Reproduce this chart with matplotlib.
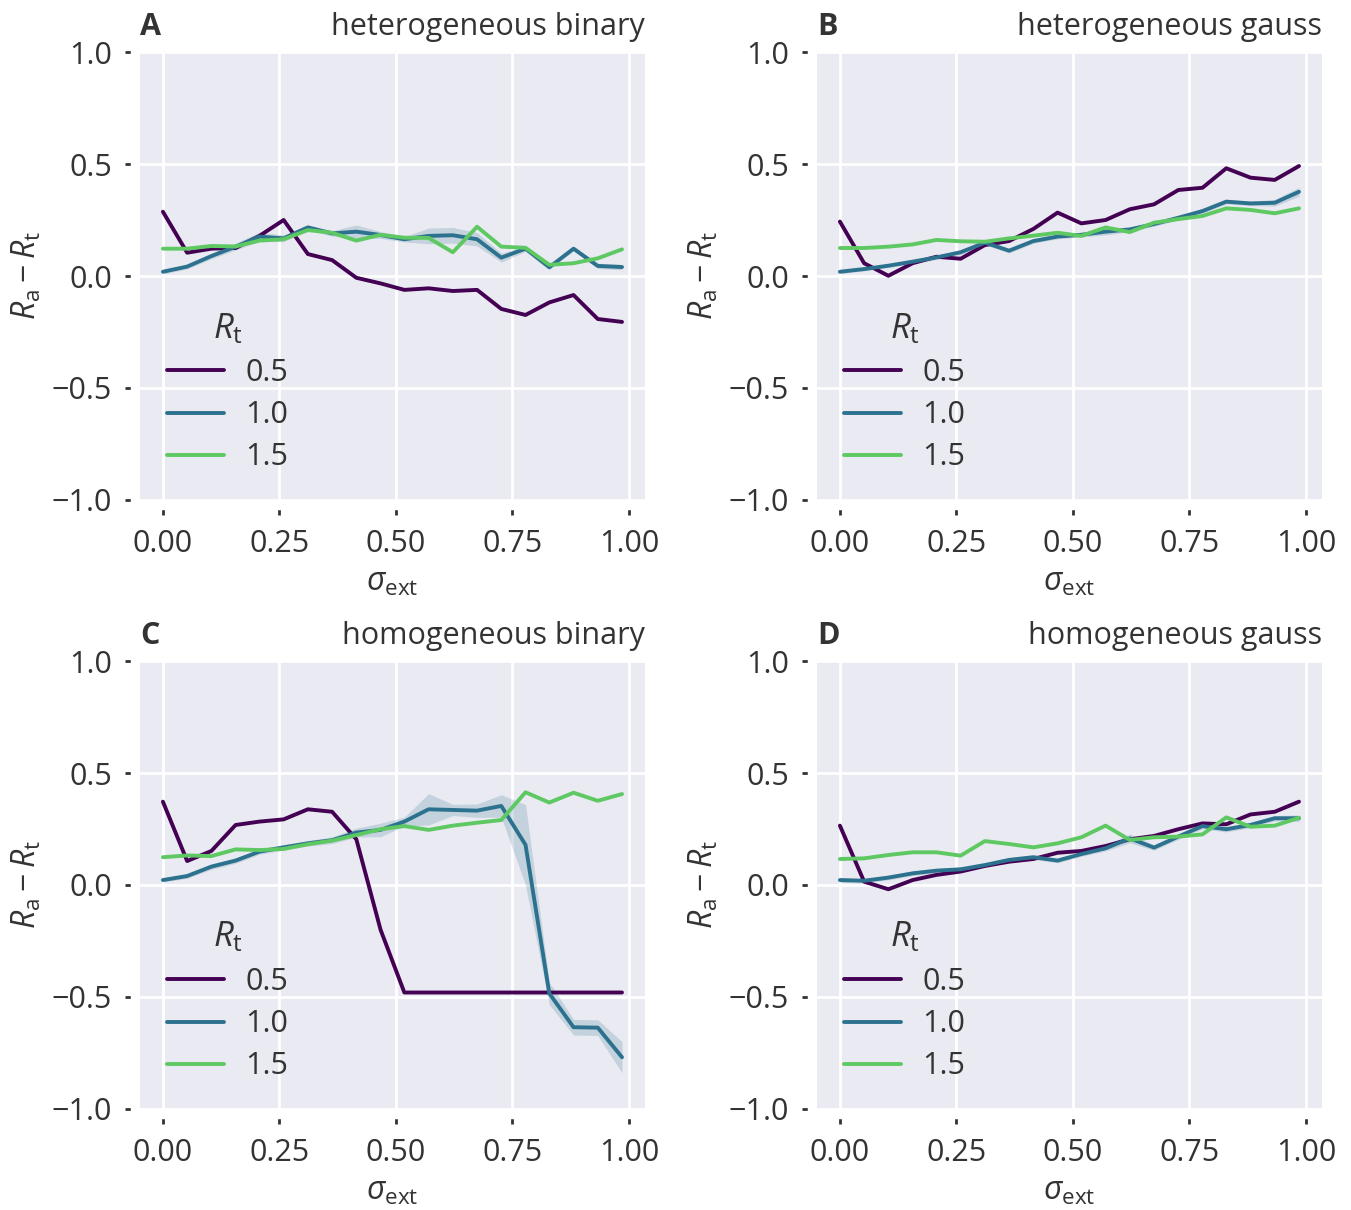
import matplotlib
matplotlib.use("Agg")
import matplotlib.pyplot as plt
import seaborn as sns

# sigma_ext values (20 steps)
sigma = [0.0, 0.052, 0.104, 0.156, 0.207, 0.259, 0.311, 0.363, 0.415, 0.467,
         0.518, 0.570, 0.622, 0.674, 0.726, 0.778, 0.829, 0.881, 0.933, 0.985]

# A: heterogeneous binary
a_05 = [0.287, 0.104, 0.122, 0.125, 0.179, 0.25, 0.098, 0.071, -0.008, -0.033,
        -0.062, -0.055, -0.067, -0.062, -0.147, -0.174, -0.118, -0.085, -0.192, -0.205]
a_10 = [0.019, 0.042, 0.089, 0.131, 0.176, 0.168, 0.217, 0.19, 0.198, 0.183,
        0.164, 0.179, 0.182, 0.164, 0.082, 0.122, 0.039, 0.122, 0.045, 0.04]
a_15 = [0.122, 0.122, 0.134, 0.132, 0.158, 0.164, 0.205, 0.193, 0.158, 0.184,
        0.171, 0.17, 0.106, 0.22, 0.131, 0.126, 0.05, 0.057, 0.079, 0.119]
a_10_ci = [0.01, 0.01, 0.012, 0.015, 0.02, 0.015, 0.012, 0.012, 0.03, 0.015,
           0.012, 0.035, 0.035, 0.03, 0.02, 0.012, 0.01, 0.01, 0.012, 0.012]

# B: heterogeneous gauss
b_05 = [0.243, 0.057, 0.001, 0.057, 0.086, 0.077, 0.138, 0.156, 0.21, 0.283,
        0.235, 0.25, 0.298, 0.32, 0.384, 0.394, 0.481, 0.439, 0.429, 0.491]
b_10 = [0.019, 0.031, 0.046, 0.064, 0.083, 0.106, 0.149, 0.113, 0.156, 0.176,
        0.184, 0.198, 0.208, 0.232, 0.26, 0.29, 0.332, 0.324, 0.327, 0.376]
b_15 = [0.125, 0.125, 0.131, 0.141, 0.161, 0.155, 0.153, 0.168, 0.18, 0.193,
        0.179, 0.217, 0.196, 0.238, 0.254, 0.268, 0.302, 0.295, 0.28, 0.302]
b_10_ci = [0.008, 0.008, 0.008, 0.008, 0.01, 0.01, 0.01, 0.01, 0.01, 0.01,
           0.01, 0.015, 0.01, 0.01, 0.01, 0.01, 0.01, 0.01, 0.015, 0.02]

# C: homogeneous binary
c_05 = [0.372, 0.107, 0.152, 0.268, 0.283, 0.293, 0.338, 0.327, 0.204, -0.2,
        -0.48, -0.48, -0.48, -0.48, -0.48, -0.48, -0.48, -0.48, -0.48, -0.48]
c_10 = [0.022, 0.04, 0.082, 0.109, 0.149, 0.168, 0.186, 0.2, 0.234, 0.246,
        0.283, 0.338, 0.335, 0.332, 0.353, 0.179, -0.484, -0.635, -0.637, -0.769]
c_15 = [0.124, 0.132, 0.129, 0.159, 0.156, 0.161, 0.182, 0.198, 0.223, 0.249,
        0.263, 0.246, 0.265, 0.278, 0.29, 0.414, 0.368, 0.412, 0.376, 0.406]
c_10_ci = [0.008, 0.01, 0.012, 0.012, 0.012, 0.012, 0.012, 0.015, 0.02, 0.03,
           0.02, 0.07, 0.025, 0.03, 0.05, 0.18, 0.05, 0.035, 0.035, 0.07]

# D: homogeneous gauss
d_05 = [0.265, 0.015, -0.019, 0.022, 0.045, 0.06, 0.085, 0.104, 0.116, 0.144,
        0.152, 0.174, 0.204, 0.219, 0.249, 0.275, 0.271, 0.315, 0.327, 0.372]
d_10 = [0.022, 0.019, 0.033, 0.052, 0.064, 0.07, 0.089, 0.112, 0.124, 0.109,
        0.138, 0.164, 0.208, 0.167, 0.216, 0.263, 0.249, 0.268, 0.298, 0.298]
d_15 = [0.116, 0.119, 0.134, 0.146, 0.146, 0.131, 0.196, 0.183, 0.168, 0.186,
        0.213, 0.265, 0.201, 0.213, 0.216, 0.226, 0.302, 0.26, 0.265, 0.3]
d_10_ci = [0.01, 0.01, 0.01, 0.01, 0.01, 0.01, 0.01, 0.01, 0.01, 0.01,
           0.01, 0.012, 0.02, 0.012, 0.012, 0.012, 0.012, 0.012, 0.012, 0.015]

r_t = ["0.5", "1.0", "1.5"]
colors = ["#440154", "#2c728e", "#5ec962"]

panels = [
    ("A", "heterogeneous binary", [a_05, a_10, a_15], a_10_ci),
    ("B", "heterogeneous gauss", [b_05, b_10, b_15], b_10_ci),
    ("C", "homogeneous binary", [c_05, c_10, c_15], c_10_ci),
    ("D", "homogeneous gauss", [d_05, d_10, d_15], d_10_ci),
]

sns.set_theme(style="darkgrid", rc={"xtick.bottom": True, "ytick.left": True,
                                    "xtick.major.size": 2.5, "ytick.major.size": 2.5,
                                    "xtick.major.width": 1.0, "ytick.major.width": 1.0})
plt.rcParams["font.family"] = ["Open Sans", "DejaVu Sans"]
plt.rcParams["mathtext.fontset"] = "custom"
plt.rcParams["mathtext.rm"] = "Open Sans"
plt.rcParams["mathtext.it"] = "Open Sans:italic"
plt.rcParams["mathtext.bf"] = "Open Sans:bold"

txt = ".2"
fig = plt.figure(figsize=(6.755, 6.05), dpi=200)
lefts = [0.1036, 0.6047]
bottoms = [0.5868, 0.0835]
w, h = 0.3738, 0.3702

for i, (letter, title, series, ci) in enumerate(panels):
    ax = fig.add_axes([lefts[i % 2], bottoms[i // 2], w, h])
    for k, (ys, col, lab) in enumerate(zip(series, colors, r_t)):
        ax.plot(sigma, ys, color=col, lw=1.4, label=lab)
        if k == 1:
            lo = [y - e for y, e in zip(ys, ci)]
            hi = [y + e for y, e in zip(ys, ci)]
            ax.fill_between(sigma, lo, hi, color=col, alpha=0.2, lw=0)
    ax.set_ylim(-1, 1)
    ax.set_yticks([-1.0, -0.5, 0.0, 0.5, 1.0])
    ax.set_xticks([0.0, 0.25, 0.5, 0.75, 1.0])
    ax.tick_params(axis="y", labelsize=11, pad=4.5, colors=txt)
    ax.tick_params(axis="x", labelsize=11, pad=5, colors=txt)
    ax.set_xlabel(r"$\sigma_\mathrm{ext}$", fontsize=11.5, color=txt, labelpad=2.5)
    ax.set_ylabel(r"$R_\mathrm{a} - R_\mathrm{t}$", fontsize=11.5, color=txt, labelpad=3)
    ax.set_title(letter, loc="left", fontweight="bold", fontsize=11, pad=6, color=txt)
    ax.set_title(title, loc="right", fontsize=11, pad=6, color=txt)
    leg = ax.legend(title=r"$R_\mathrm{t}$", loc="lower left", frameon=False,
                    fontsize=11, title_fontsize=12.5, handlelength=1.85,
                    handletextpad=0.7, labelcolor=txt, labelspacing=0.4)
    leg.get_title().set_color(txt)
    sns.despine(ax=ax, offset=3)

fig.savefig("out.png", dpi=200)
